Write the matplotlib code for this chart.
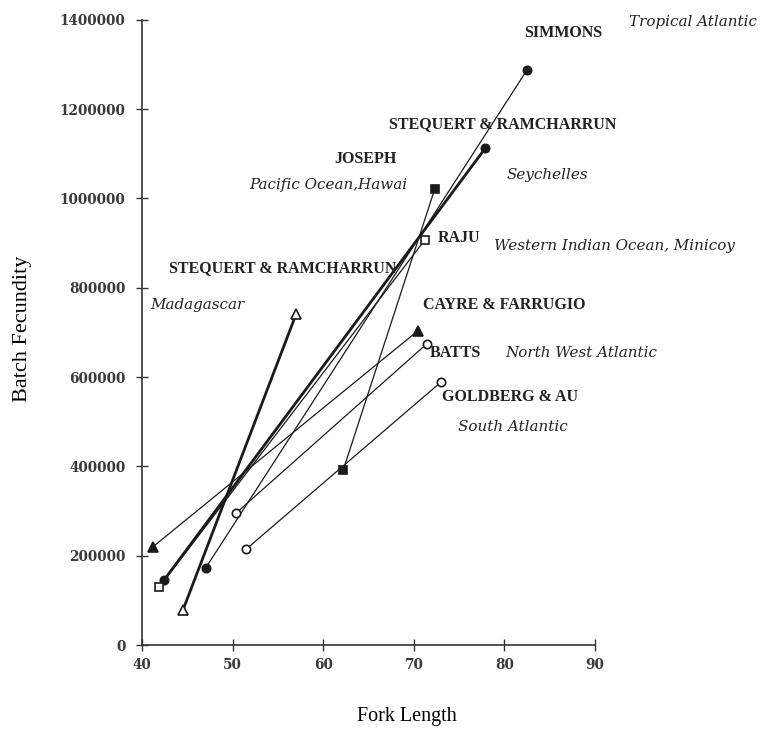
import matplotlib.pyplot as plt

# Fork length / batch fecundity, two end points per study
studies = ['SIMMONS', 'STEQUERT_SEY', 'JOSEPH', 'RAJU', 'STEQUERT_MAD', 'CAYRE', 'BATTS', 'GOLDBERG']
fork_length = [
    [47.0, 82.5],
    [42.4, 77.9],
    [62.2, 72.3],
    [41.9, 71.2],
    [44.5, 57.0],
    [41.2, 70.4],
    [50.4, 71.4],
    [51.5, 73.0],
]
fecundity = [
    [172000, 1288000],
    [145000, 1113000],
    [392000, 1021000],
    [130000, 907000],
    [78000, 741000],
    [220000, 703000],
    [296000, 674000],
    [215000, 589000],
]

# marker, filled?, line width
styles = [
    ('o', True, 0.9),
    ('o', True, 2.0),
    ('s', True, 0.9),
    ('s', False, 0.9),
    ('^', False, 2.0),
    ('^', True, 0.9),
    ('o', False, 0.9),
    ('o', False, 0.9),
]

# annotation text: (text, x, y, bold label or italic region)
labels = [
    ('SIMMONS', 82.2, 1371000, 'b'),
    ('Tropical Atlantic', 93.75, 1395000, 'i'),
    ('STEQUERT & RAMCHARRUN', 67.3, 1167000, 'b'),
    ('JOSEPH', 61.2, 1088000, 'b'),
    ('Pacific Ocean,Hawai', 51.8, 1030000, 'i'),
    ('Seychelles', 80.2, 1053000, 'i'),
    ('RAJU', 72.6, 911000, 'b'),
    ('Western Indian Ocean, Minicoy', 78.85, 894000, 'i'),
    ('STEQUERT & RAMCHARRUN', 43.0, 844000, 'b'),
    ('Madagascar', 40.9, 762000, 'i'),
    ('CAYRE & FARRUGIO', 71.0, 762000, 'b'),
    ('BATTS', 71.8, 654000, 'b'),
    ('North West Atlantic', 80.1, 654000, 'i'),
    ('GOLDBERG & AU', 73.1, 555000, 'b'),
    ('South Atlantic', 74.9, 488000, 'i'),
]

plt.rcParams['font.family'] = ['DejaVu Serif']
ink = '#1a1a1a'

fig = plt.figure(figsize=(7.6, 7.33), dpi=100)
ax = fig.add_axes([0.187, 0.12, 0.596, 0.853])

for xs, ys, (mk, filled, lw) in zip(fork_length, fecundity, styles):
    ms = 6.5 if mk == '^' else 6
    ax.plot(xs, ys, color=ink, lw=lw, marker=mk, markersize=ms,
            markerfacecolor=ink if filled else 'white',
            markeredgecolor=ink, markeredgewidth=1.2, zorder=3)

for txt, x, y, kind in labels:
    if kind == 'b':
        ax.text(x, y, txt, fontsize=11.5, fontweight='bold', color='#222222',
                va='center', ha='left', family='Liberation Serif')
    else:
        ax.text(x, y, txt, fontsize=10.9, style='italic', color='#222222',
                va='center', ha='left', family='DejaVu Serif')

ax.set_xlim(40, 90)
ax.set_ylim(0, 1400000)
ax.set_xticks([40, 50, 60, 70, 80, 90])
ax.set_yticks(range(0, 1400001, 200000))
ax.set_yticklabels([str(v) for v in range(0, 1400001, 200000)])
ax.tick_params(direction='inout', length=8, width=1, colors='#333333',
               labelsize=9.8, labelcolor='#3a3a3a')
ax.tick_params(axis='y', pad=8)
ax.tick_params(axis='x', pad=5)
for lab in ax.get_xticklabels() + ax.get_yticklabels():
    lab.set_family('DejaVu Serif')
    lab.set_fontweight('bold')

for side in ['top', 'right']:
    ax.spines[side].set_visible(False)
for side in ['left', 'bottom']:
    ax.spines[side].set_color('#333333')
    ax.spines[side].set_linewidth(1.2)

ax.set_xlabel('Fork Length', fontsize=14.5, family='Liberation Serif', va='center')
ax.set_ylabel('Batch Fecundity', fontsize=16, family='Liberation Serif', va='center')
ax.xaxis.set_label_coords(0.585, -0.115)
ax.yaxis.set_label_coords(-0.265, 0.505)

fig.savefig('out.png', dpi=100, facecolor='white')
